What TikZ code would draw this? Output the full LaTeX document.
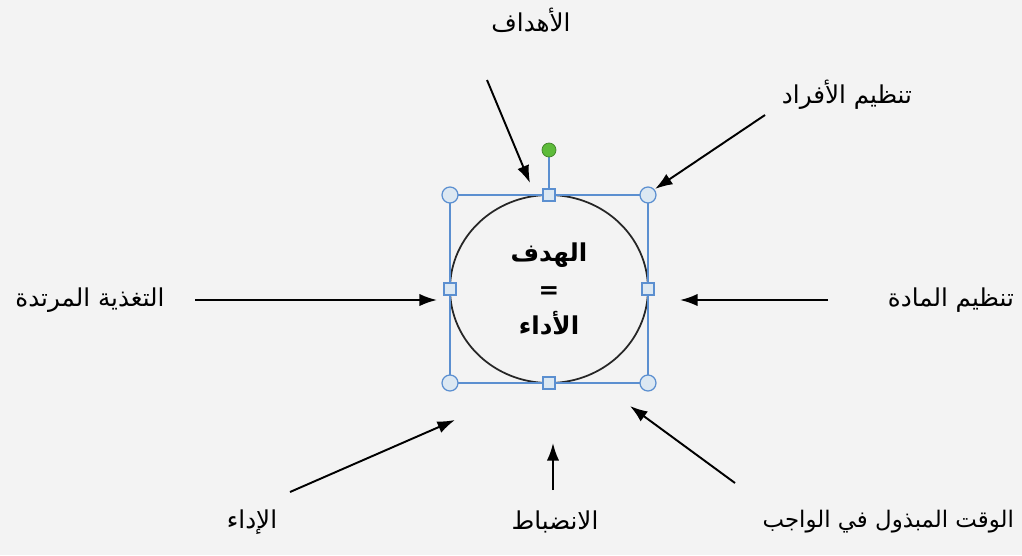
\documentclass[tikz,border=0pt]{standalone}
\usepackage{fontspec}
\usetikzlibrary{arrows.meta, positioning, shapes.geometric}
\TeXXeTstate=1
\newfontfamily\arabicfont[Script=Arabic]{DejaVu Sans}
\definecolor{paper}{HTML}{F3F3F3}
\definecolor{selblue}{HTML}{5B8FD0}
\definecolor{handlefill}{HTML}{DCE8F2}
\definecolor{rotgreen}{HTML}{5DBB3A}

\begin{document}
\begin{tikzpicture}[
  x=0.02cm, y=-0.02cm,
  every node/.style={inner sep=1pt},
  label/.style={font=\arabicfont\fontsize{14}{16}\selectfont},
  goal/.style={ellipse, draw=black!85, line width=1pt, minimum width=198*0.02cm, minimum height=188*0.02cm, align=center, font=\arabicfont\bfseries\fontsize{14}{21}\selectfont},
  corner/.style={circle, draw=selblue, fill=handlefill, line width=0.7pt, minimum size=16*0.02cm, inner sep=0pt},
  side/.style={rectangle, draw=selblue, fill=handlefill, line width=0.7pt, minimum size=12*0.02cm, inner sep=0pt},
  arrow/.style={-{Latex[length=10pt, width=7pt]}, line width=1.1pt}
]

% Background
\useasboundingbox (0,0) rectangle (1022,555);
\fill[paper] (0,0) rectangle (1022,555);

% Nodes
\node[goal] (goal) at (549,289) {\beginR الهدف\endR \\ = \\ \beginR الأداء\endR};

\node[label] (aims) at (531,20) {\beginR الأهداف\endR};
\node[label] (staff) at (847,95) {\beginR تنظيم الأفراد\endR};
\node[label] (feedback) at (90,300) {\beginR التغذية المرتدة\endR};
\node[label, anchor=east] (material) at (1016,300) {\beginR تنظيم المادة\endR};
\node[label] (performance) at (252,522) {\beginR الإداء\endR};
\node[label] (discipline) at (555,522) {\beginR الانضباط\endR};
\node[label, anchor=east, font=\arabicfont\fontsize{13}{15}\selectfont] (taskTime) at (1016,522) {\beginR الوقت المبذول في الواجب\endR};

% Selection frame
\draw[selblue, line width=0.9pt] (450,195) rectangle (648,383);
\draw[selblue, line width=0.9pt] (549,157) -- (549,195);
\node[circle, draw=rotgreen!70!black, fill=rotgreen, minimum size=14*0.02cm, inner sep=0pt] (rotate) at (549,150) {};
\node[corner] (nw) at (450,195) {};
\node[corner] (ne) at (648,195) {};
\node[corner] (sw) at (450,383) {};
\node[corner] (se) at (648,383) {};
\node[side] (n) at (549,195) {};
\node[side] (s) at (549,383) {};
\node[side] (w) at (450,289) {};
\node[side] (e) at (648,289) {};

% Arrow ends
\coordinate (aimsFrom) at (487,80);
\coordinate (aimsTo) at (530,183);
\coordinate (staffFrom) at (765,115);
\coordinate (staffTo) at (655,189);
\coordinate (feedbackFrom) at (195,300);
\coordinate (feedbackTo) at (437,300);
\coordinate (materialFrom) at (828,300);
\coordinate (materialTo) at (680,300);
\coordinate (performanceFrom) at (290,492);
\coordinate (performanceTo) at (455,420);
\coordinate (disciplineFrom) at (553,490);
\coordinate (disciplineTo) at (553,443);
\coordinate (taskTimeFrom) at (735,483);
\coordinate (taskTimeTo) at (630,406);

% Arrows
\draw[arrow] (aimsFrom) -- (aimsTo);
\draw[arrow] (staffFrom) -- (staffTo);
\draw[arrow] (feedbackFrom) -- (feedbackTo);
\draw[arrow] (materialFrom) -- (materialTo);
\draw[arrow] (performanceFrom) -- (performanceTo);
\draw[arrow] (disciplineFrom) -- (disciplineTo);
\draw[arrow] (taskTimeFrom) -- (taskTimeTo);

\end{tikzpicture}
\end{document}
